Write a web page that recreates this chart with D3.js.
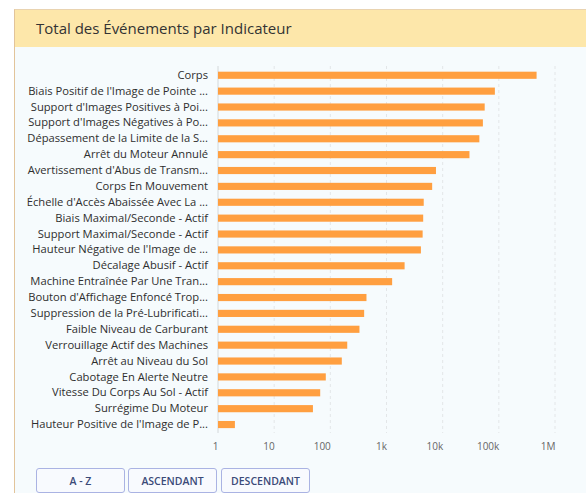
<!DOCTYPE html>
<html>
<head>
<meta charset="utf-8">
<script src="https://cdn.jsdelivr.net/npm/d3@7"></script>
<style>
    body { margin: 0; background: #fff; font-family: 'Open Sans', sans-serif; }
    #panel {
        position: absolute; left: 14px; top: 9px; width: 580px; height: 490px;
        background: #f6fbfd; border-left: 1.5px solid #e2c49a; border-top: 1.5px solid #e9d3b0;
    }
    #header {
        position: absolute; left: 0; top: 0; right: 0; height: 37px;
        background: #fde7aa; color: #333; font-size: 15px;
        line-height: 37px; padding-left: 21px;
    }
    #chart { position: absolute; left: 0; top: 0; }
    .btn {
        position: absolute; top: 458px; height: 25px; width: 89px;
        border: 1px solid #aab3e3; border-radius: 3px; background: #f8fafe;
        color: #3b4a78; font-size: 10.5px; font-weight: 600; text-align: center;
        line-height: 25px; box-sizing: border-box;
    }
</style>
</head>
<body>
<div id="panel">
    <div id="header">Total des Événements par Indicateur</div>
    <div id="chart"></div>
</div>
<script>
// Indicator names (already truncated as in the dashboard)
const categories = [
    "Corps",
    "Biais Positif de l'Image de Pointe ...",
    "Support d'Images Positives à Poi...",
    "Support d'Images Négatives à Po...",
    "Dépassement de la Limite de la S...",
    "Arrêt du Moteur Annulé",
    "Avertissement d'Abus de Transm...",
    "Corps En Mouvement",
    "Échelle d'Accès Abaissée Avec La ...",
    "Biais Maximal/Seconde - Actif",
    "Support Maximal/Seconde - Actif",
    "Hauteur Négative de l'Image de ...",
    "Décalage Abusif - Actif",
    "Machine Entraînée Par Une Tran...",
    "Bouton d'Affichage Enfoncé Trop...",
    "Suppression de la Pré-Lubrificati...",
    "Faible Niveau de Carburant",
    "Verrouillage Actif des Machines",
    "Arrêt au Niveau du Sol",
    "Cabotage En Alerte Neutre",
    "Vitesse Du Corps Au Sol - Actif",
    "Surrégime Du Moteur",
    "Hauteur Positive de l'Image de P..."
];

// Event totals
const totals = [
    470000, 85000, 56000, 52000, 45000, 30000, 7600, 6500,
    4600, 4500, 4400, 4100, 2100, 1260, 440, 400,
    330, 200, 160, 83, 66, 49, 2
];

const tickValues = [1, 10, 100, 1000, 10000, 100000, 1000000];
const tickLabels = ["1", "10", "100", "1k", "10k", "100k", "1M"];

const offX = 14, offY = 9; // panel offset in page
const width = 572, height = 484;

const svg = d3.select('#chart')
    .append('svg')
    .attr('width', width)
    .attr('height', height)
    .style('font-family', "'Open Sans', sans-serif");

const x = d3.scaleLog()
    .domain([1, 1000000])
    .range([217 - offX, 554 - offX]);

const y = d3.scaleBand()
    .domain(categories)
    .range([66.4 - offY, 431.4 - offY])
    .paddingInner(0.55)
    .paddingOuter(0.27);

// grid
svg.append('g')
    .selectAll('line')
    .data(tickValues)
    .enter()
    .append('line')
    .attr('x1', d => x(d))
    .attr('x2', d => x(d))
    .attr('y1', 65 - offY)
    .attr('y2', 432 - offY)
    .attr('stroke', (d, i) => i === 0 ? '#d4d8da' : '#e3e6e8')
    .attr('stroke-dasharray', (d, i) => i === 0 ? null : '3,3');

// bars
svg.append('g')
    .selectAll('rect')
    .data(categories)
    .enter()
    .append('rect')
    .attr('x', x(1))
    .attr('y', d => y(d))
    .attr('width', (d, i) => x(totals[i]) - x(1))
    .attr('height', y.bandwidth())
    .attr('fill', '#ff9f40');

// y labels
const yAxis = svg.append('g')
    .attr('transform', `translate(${207 - offX},0)`)
    .call(d3.axisLeft(y).tickSize(0).tickPadding(0));
yAxis.select('.domain').remove();
yAxis.selectAll('text')
    .attr('x', 0)
    .style('font-size', '11.2px')
    .style('font-family', "'Open Sans', sans-serif")
    .attr('fill', '#2e2e2e');

// x labels, right-aligned on their grid line
const xAxis = svg.append('g')
    .attr('transform', `translate(0,${439 - offY})`)
    .call(d3.axisBottom(x).tickValues(tickValues).tickSize(0)
        .tickFormat((d, i) => tickLabels[i]));
xAxis.select('.domain').remove();
xAxis.selectAll('text')
    .attr('text-anchor', 'end')
    .style('font-size', '10px')
    .style('font-family', "'Open Sans', sans-serif")
    .attr('fill', '#666');

// sort buttons
const buttons = ["A - Z", "ASCENDANT", "DESCENDANT"];
const buttonLeft = [21, 113, 206];
d3.select('#panel')
    .selectAll('.btn')
    .data(buttons)
    .enter()
    .append('div')
    .attr('class', 'btn')
    .style('left', (d, i) => buttonLeft[i] + 'px')
    .text(d => d);
</script>
</body>
</html>
